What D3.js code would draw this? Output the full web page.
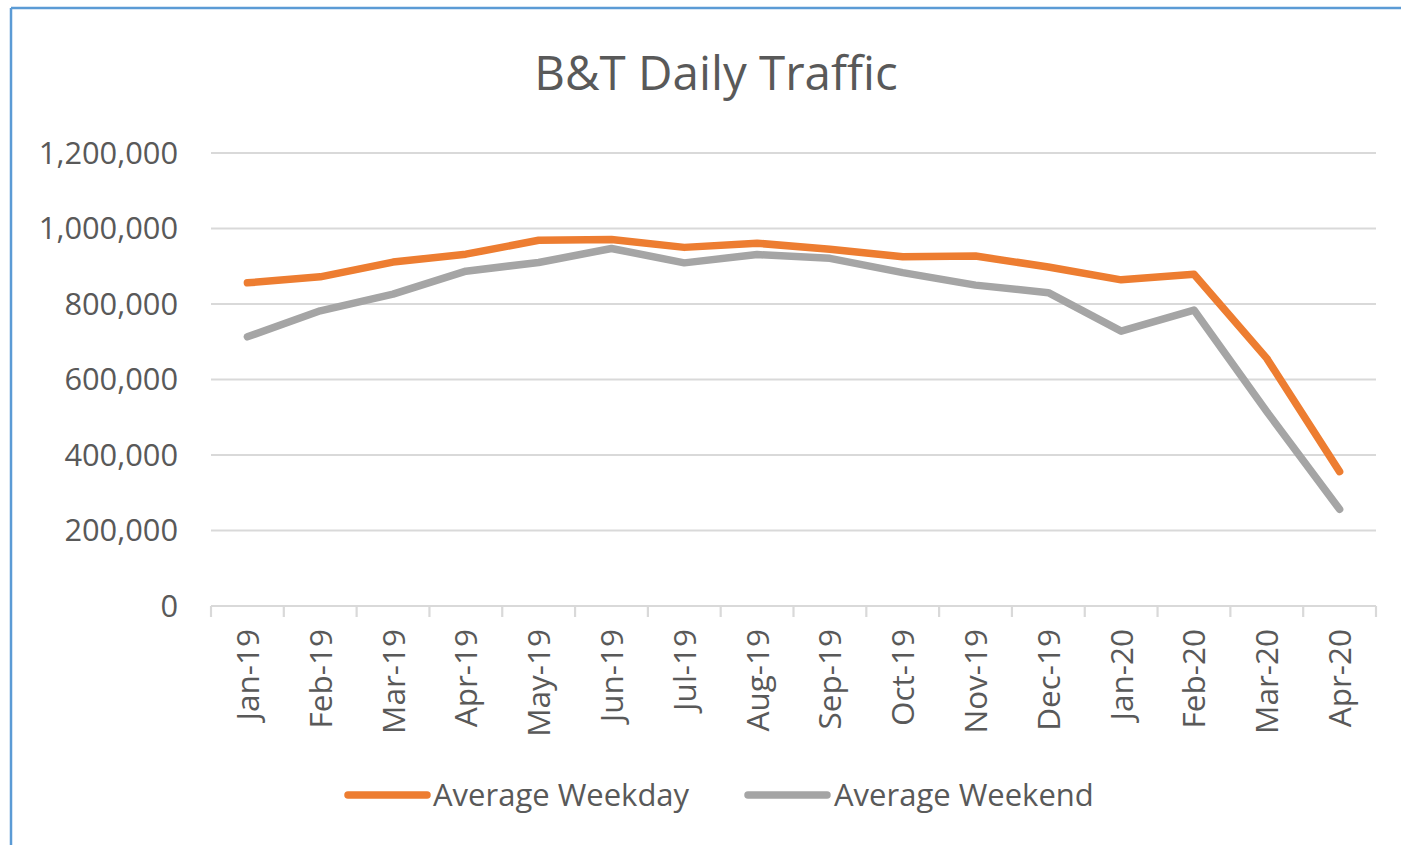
<!DOCTYPE html>
<html>
<head>
<meta charset="utf-8">
<script src="https://cdn.jsdelivr.net/npm/d3@7"></script>
<style>
  html, body { margin: 0; padding: 0; background: #fff; }
  svg { display: block; }
</style>
</head>
<body>
<svg id="chart" width="1401" height="845"></svg>
<script>
const categories = ["Jan-19","Feb-19","Mar-19","Apr-19","May-19","Jun-19","Jul-19","Aug-19","Sep-19","Oct-19","Nov-19","Dec-19","Jan-20","Feb-20","Mar-20","Apr-20"];
const weekday = [856000, 872000, 911000, 932000, 969000, 971000, 950000, 961000, 945000, 925000, 927000, 898000, 864000, 879000, 656000, 356000];
const weekend = [713000, 782000, 826000, 887000, 910000, 947000, 909000, 931000, 921000, 883000, 850000, 830000, 728000, 784000, 515000, 256000];
const yTicks = [0, 200000, 400000, 600000, 800000, 1000000, 1200000];
const seriesNames = ["Average Weekday", "Average Weekend"];
const seriesColors = ["#ED7D31", "#A5A5A5"];

const svg = d3.select("#chart");
const font = "'Open Sans', 'Noto Sans', sans-serif";
const textColor = "#595959";

// chart border (blue)
svg.append("line").attr("x1", 11).attr("x2", 11).attr("y1", 8).attr("y2", 845)
  .attr("stroke", "#5B9BD5").attr("stroke-width", 2.5);
svg.append("line").attr("x1", 11).attr("x2", 1401).attr("y1", 8).attr("y2", 8)
  .attr("stroke", "#5B9BD5").attr("stroke-width", 2.5);

const x = d3.scaleBand().domain(categories).range([211, 1376]);
const y = d3.scaleLinear().domain([0, 1200000]).range([606, 153]);

// title
svg.append("text").attr("x", 716).attr("y", 90).attr("text-anchor", "middle")
  .attr("font-family", font).attr("font-size", 47.5).attr("fill", textColor)
  .text("B&T Daily Traffic");

// gridlines
svg.append("g").selectAll("line").data(yTicks.filter(d => d > 0)).join("line")
  .attr("x1", 211).attr("x2", 1376)
  .attr("y1", d => y(d)).attr("y2", d => y(d))
  .attr("stroke", "#D9D9D9").attr("stroke-width", 2.2);

// y axis labels
const fmt = d3.format(",");
svg.append("g").selectAll("text").data(yTicks).join("text")
  .attr("x", 178).attr("y", d => y(d) + 10.8)
  .attr("text-anchor", "end")
  .attr("font-family", font).attr("font-size", 30.8).attr("fill", textColor)
  .text(d => fmt(d));

// x axis
const xAxis = d3.axisBottom(x).tickSize(0).tickFormat("");
const gx = svg.append("g").attr("transform", "translate(0,606)").call(xAxis);
gx.select(".domain").attr("stroke", "#D9D9D9").attr("stroke-width", 2.2)
  .attr("d", "M211,0H1376");
// boundary ticks
const bounds = categories.map(c => x(c)).concat([x.range()[1]]);
svg.append("g").selectAll("line").data(bounds).join("line")
  .attr("x1", d => d).attr("x2", d => d).attr("y1", 606).attr("y2", 617)
  .attr("stroke", "#D9D9D9").attr("stroke-width", 2.2);

// x labels rotated
svg.append("g").selectAll("text").data(categories).join("text")
  .attr("transform", d => `translate(${x(d) + x.bandwidth() / 2 + 11.5},629) rotate(-90)`)
  .attr("text-anchor", "end")
  .attr("font-family", font).attr("font-size", 31.5).attr("fill", textColor)
  .text(d => d);

// lines
const line = d3.line()
  .x((d, i) => x(categories[i]) + x.bandwidth() / 2)
  .y(d => y(d));
[weekday, weekend].forEach((s, k) => {
  svg.append("path").datum(s)
    .attr("d", line)
    .attr("fill", "none")
    .attr("stroke", seriesColors[k])
    .attr("stroke-width", 7.5)
    .attr("stroke-linejoin", "round")
    .attr("stroke-linecap", "round");
});

// legend
const legendItems = [{x1: 348, x2: 427, tx: 433}, {x1: 748, x2: 827, tx: 834}];
legendItems.forEach((l, k) => {
  svg.append("line").attr("x1", l.x1).attr("x2", l.x2).attr("y1", 795).attr("y2", 795)
    .attr("stroke", seriesColors[k]).attr("stroke-width", 7.5).attr("stroke-linecap", "round");
  svg.append("text").attr("x", l.tx).attr("y", 806)
    .attr("font-family", font).attr("font-size", 31).attr("fill", textColor)
    .text(seriesNames[k]);
});
</script>
</body>
</html>
